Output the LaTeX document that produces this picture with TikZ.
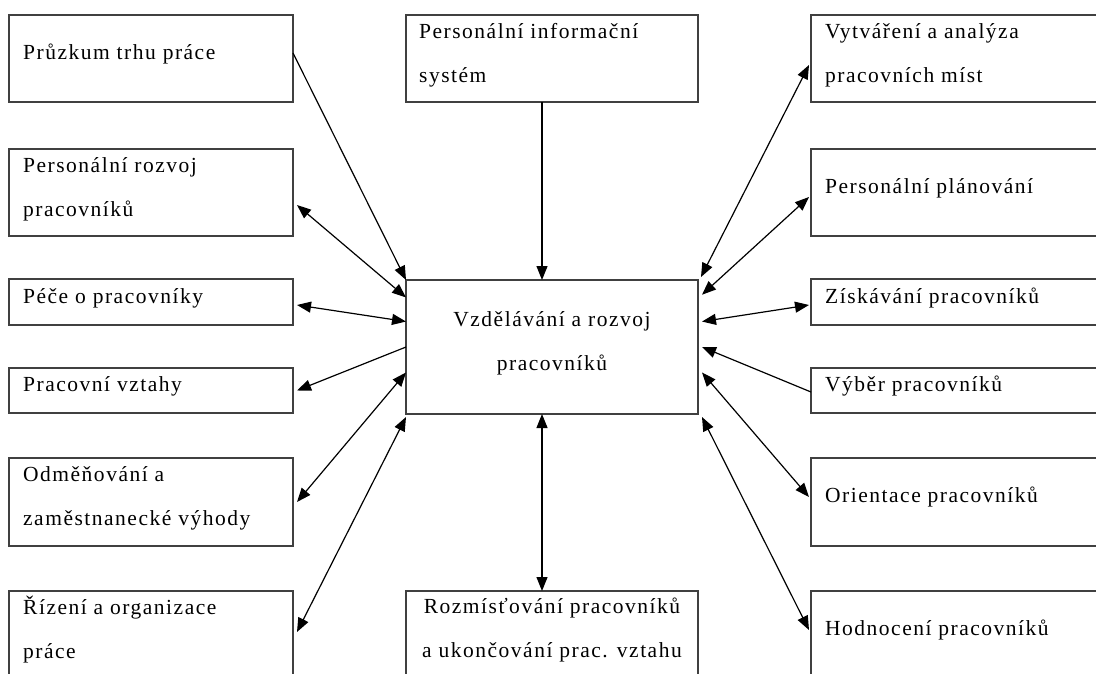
\documentclass[tikz,border=0pt]{standalone}
\usepackage{fontspec}
\setmainfont{Liberation Serif}[LetterSpace=7]
\usepackage{tikz}
\usetikzlibrary{arrows.meta,calc}

\begin{document}
\begin{tikzpicture}[
    x=1pt, y=-1pt,
    field/.style={draw=black!75, line width=1.3pt, anchor=north west, inner sep=0pt, outer sep=0pt, minimum width=284pt},
    label/.style={anchor=base west, inner sep=0pt, align=left, font=\fontsize{21.5}{44}\selectfont},
    oneway/.style={-{Triangle[length=14pt,width=11pt]}, line width=1.2pt},
    twoway/.style={{Triangle[length=14pt,width=11pt]}-{Triangle[length=14pt,width=11pt]}, line width=1.2pt}
]
\useasboundingbox (0,0) rectangle (1096,673);

% left column
\node[field, minimum height=87pt] (l1) at (9,15) {};
\node[field, minimum height=87pt] (l2) at (9,149) {};
\node[field, minimum height=46pt] (l3) at (9,279) {};
\node[field, minimum height=45pt] (l4) at (9,368) {};
\node[field, minimum height=88pt] (l5) at (9,458) {};
\node[field, minimum height=100pt] (l6) at (9,591) {};

% middle column
\node[field, minimum width=292pt, minimum height=87pt] (tp) at (406,15) {};
\node[field, minimum width=292pt, minimum height=134pt] (cen) at (406,280) {};
\node[field, minimum width=292pt, minimum height=100pt] (bt) at (406,591) {};

% right column
\node[field, minimum width=300pt, minimum height=87pt] (r1) at (811,15) {};
\node[field, minimum width=300pt, minimum height=87pt] (r2) at (811,149) {};
\node[field, minimum width=300pt, minimum height=46pt] (r3) at (811,279) {};
\node[field, minimum width=300pt, minimum height=45pt] (r4) at (811,368) {};
\node[field, minimum width=300pt, minimum height=88pt] (r5) at (811,458) {};
\node[field, minimum width=300pt, minimum height=100pt] (r6) at (811,591) {};

% texts (base = last line)
\node[label] (l1t) at ($(l1.north west)+(14,44)$) {Průzkum trhu práce};
\node[label] (l2t) at ($(l2.north west)+(14,67)$) {Personální rozvoj\\pracovníků};
\node[label] (l3t) at ($(l3.north west)+(14,24)$) {Péče o pracovníky};
\node[label] (l4t) at ($(l4.north west)+(14,23)$) {Pracovní vztahy};
\node[label] (l5t) at ($(l5.north west)+(14,67)$) {Odměňování a\\zaměstnanecké výhody};
\node[label] (l6t) at ($(l6.north west)+(14,67)$) {Řízení a organizace\\práce};
\node[label] (tpt) at ($(tp.north west)+(13,67)$) {Personální informační\\systém};
\node[label, anchor=base, align=center] (cent) at ($(cen.north west)+(146,90)$) {Vzdělávání a rozvoj\\pracovníků};
\node[label, anchor=base, align=center] (btt) at ($(bt.north west)+(146,66)$) {Rozmísťování pracovníků\\a ukončování prac. vztahu};
\node[label] (r1t) at ($(r1.north west)+(14,67)$) {Vytváření a analýza\\pracovních míst};
\node[label] (r2t) at ($(r2.north west)+(14,44)$) {Personální plánování};
\node[label] (r3t) at ($(r3.north west)+(14,24)$) {Získávání pracovníků};
\node[label] (r4t) at ($(r4.north west)+(14,23)$) {Výběr pracovníků};
\node[label] (r5t) at ($(r5.north west)+(14,44)$) {Orientace pracovníků};
\node[label] (r6t) at ($(r6.north west)+(14,44)$) {Hodnocení pracovníků};

% links on the left
\draw[oneway] ($(l1.north east)+(0,38)$) -- (cen.north west);
\draw[twoway] ($(l2.north east)+(4,56)$) -- ($(cen.north west)!0.13!(cen.south west)$);
\draw[twoway] ($(l3.north east)+(4,26)$) -- ($(cen.north west)!0.31!(cen.south west)$);
\draw[oneway] ($(cen.north west)!0.5!(cen.south west)$) -- ($(l4.east)+(4,0)$);
\draw[twoway] ($(l5.east)+(4,0)$) -- ($(cen.north west)!0.69!(cen.south west)$);
\draw[twoway] ($(l6.north east)+(4,41)$) -- ($(cen.south west)+(0,3)$);

% links on the right
\draw[twoway] ($(r1.north west)+(-2,50)$) -- ($(cen.north east)+(3,-3)$);
\draw[twoway] ($(r2.north west)+(-2,48)$) -- ($(cen.north east)!0.11!(cen.south east)+(4,0)$);
\draw[twoway] ($(r3.north west)+(-2,26)$) -- ($(cen.north east)!0.31!(cen.south east)+(4,0)$);
\draw[oneway] ($(r4.north west)+(0,24)$) -- ($(cen.north east)!0.5!(cen.south east)+(4,0)$);
\draw[twoway] ($(r5.north west)+(-2,39)$) -- ($(cen.north east)!0.69!(cen.south east)+(4,0)$);
\draw[twoway] ($(r6.north west)+(-2,39)$) -- ($(cen.south east)+(4,3)$);

% links in the middle
\draw[oneway] ($(tp.south west)+(136,0)$) -- ($(cen.north west)+(136,0)$);
\draw[twoway] ($(cen.south west)+(136,0)$) -- ($(bt.north west)+(136,0)$);
\end{tikzpicture}
\end{document}
